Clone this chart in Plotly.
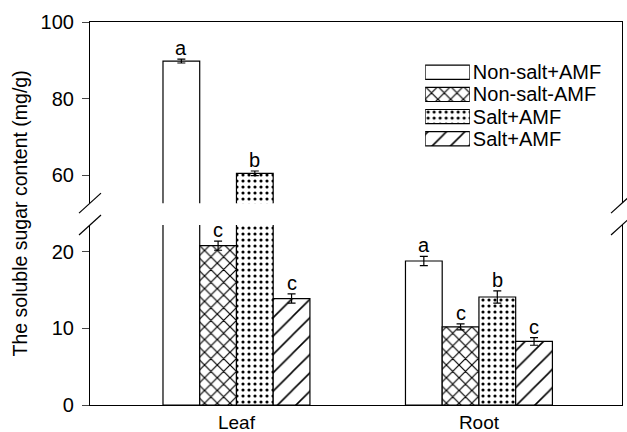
import plotly.graph_objects as go

categories = ["Leaf", "Root"]
series_names = ["Non-salt+AMF", "Non-salt-AMF", "Salt+AMF", "Salt+AMF"]
values = [
    [89.8, 18.8],
    [20.8, 10.2],
    [60.5, 14.1],
    [13.9, 8.3],
]
errors = [
    [0.5, 0.6],
    [0.6, 0.4],
    [0.6, 0.8],
    [0.6, 0.5],
]
letters = [
    ["a", "a"],
    ["c", "c"],
    ["b", "b"],
    ["c", "c"],
]
lower_ticks = [0, 10, 20]
upper_ticks = [60, 80, 100]
lower_range = [0, 23.5]
upper_range = [52.7, 100]
x_range = [-0.604, 1.59]

patterns = ["", "x", ".", "/"]
pattern_size = [8, 9, 6, 13]
pattern_solidity = [0.3, 0.25, 0.22, 0.12]

FONT = "Liberation Sans, Arial, sans-serif"
lower_dom = [0, 0.47]
upper_dom = [0.527, 1]
bargap = 0.394


def make_marker(i):
    m = dict(color="white", line=dict(color="black", width=1.2))
    if patterns[i]:
        m["pattern"] = dict(shape=patterns[i], fgcolor="black", bgcolor="white",
                            fgopacity=1, size=pattern_size[i], solidity=pattern_solidity[i])
    return m


fig = go.Figure()
for i, name in enumerate(series_names):
    marker = make_marker(i)
    low_err = [e if v <= lower_range[1] else 0 for v, e in zip(values[i], errors[i])]
    fig.add_trace(go.Bar(
        x=categories, y=values[i], name=name, marker=marker,
        error_y=dict(type="data", array=low_err, color="black", thickness=1.2, width=4),
        xaxis="x", yaxis="y", showlegend=False,
    ))
    up_vals = [v if v > lower_range[1] else None for v in values[i]]
    up_err = [e if v > lower_range[1] else 0 for v, e in zip(values[i], errors[i])]
    fig.add_trace(go.Bar(
        x=categories, y=up_vals, name=name, marker=marker,
        error_y=dict(type="data", array=up_err, color="black", thickness=1.2, width=4),
        xaxis="x2", yaxis="y2", showlegend=False,
    ))

# legend drawn as horizontal swatch bars on a small helper axis
legend_idx = list(range(len(series_names)))
for i in legend_idx:
    fig.add_trace(go.Bar(
        y=[i], x=[1], orientation="h", width=0.64, marker=make_marker(i),
        xaxis="x3", yaxis="y3", showlegend=False, hoverinfo="skip",
    ))

# significance letters
n = len(series_names)
group_w = 1 - bargap
annotations = []
for i in range(n):
    off = -group_w / 2 + (i + 0.5) * group_w / n
    for j, cat in enumerate(categories):
        v = values[i][j] + errors[i][j]
        upper = values[i][j] > lower_range[1]
        annotations.append(dict(
            x=j + off, y=v, xref="x2" if upper else "x", yref="y2" if upper else "y",
            text=letters[i][j], showarrow=False, yanchor="bottom", yshift=-2,
            font=dict(family=FONT, size=20, color="black"),
        ))

annotations.append(dict(
    x=-0.1316, y=(lower_dom[0] + upper_dom[1]) / 2, xref="paper", yref="paper",
    text="The soluble sugar content (mg/g)", textangle=-90, showarrow=False,
    xanchor="center", yanchor="middle", font=dict(family=FONT, size=19.5, color="black"),
))

# axis break marks
shapes = []
for xa in [0, 1]:
    for ya in [upper_dom[0], lower_dom[1]]:
        shapes.append(dict(
            type="line", xref="paper", yref="paper",
            xsizemode="pixel", ysizemode="pixel", xanchor=xa, yanchor=ya,
            x0=-11, x1=11, y0=-10, y1=10, line=dict(color="black", width=1.2),
        ))

axis_common = dict(showgrid=False, zeroline=False, showline=True, linecolor="black",
                   linewidth=1.2, automargin=False,
                   tickfont=dict(family=FONT, size=20, color="black"))
x_common = dict(axis_common, tickfont=dict(family=FONT, size=19, color="black"))

fig.update_layout(
    width=627, height=432,
    margin=dict(l=90, r=5, t=22, b=27),
    paper_bgcolor="white", plot_bgcolor="white",
    barmode="group", bargap=bargap, bargroupgap=0,
    font=dict(family=FONT, size=20, color="black"),
    showlegend=False,
    xaxis=dict(**x_common, anchor="y", ticks="", domain=[0, 1], range=x_range,
               ticklabelstandoff=0),
    xaxis2=dict(**x_common, anchor="y2", matches="x", side="top", ticks="",
                showticklabels=False, domain=[0, 1]),
    yaxis=dict(**axis_common, domain=lower_dom, range=lower_range, tickvals=lower_ticks,
               ticks="outside", ticklen=7, mirror=True, anchor="x", ticklabelstandoff=4),
    yaxis2=dict(**axis_common, domain=upper_dom, range=upper_range, tickvals=upper_ticks,
                ticks="outside", ticklen=7, mirror=True, anchor="x2", ticklabelstandoff=4),
    xaxis3=dict(domain=[0.630, 0.714], range=[0, 1], anchor="y3", visible=False,
                fixedrange=True),
    yaxis3=dict(domain=[0.666, 0.898], range=[len(series_names) - 0.5, -0.5], anchor="x3",
                side="right", showline=False, showgrid=False, zeroline=False, ticks="",
                tickvals=legend_idx, ticktext=series_names, automargin=False,
                tickfont=dict(family=FONT, size=20, color="black"), ticklabelstandoff=2,
                fixedrange=True),
    annotations=annotations,
    shapes=shapes,
)

fig.write_html("out.html", config={"displayModeBar": False},
               post_script="document.body.style.margin='0';")
